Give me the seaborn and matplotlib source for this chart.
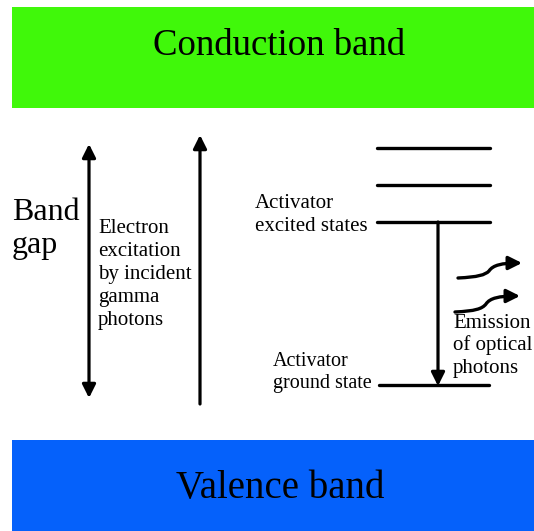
import numpy as np
import pandas as pd
import seaborn as sns
import matplotlib
matplotlib.use("Agg")
import matplotlib.pyplot as plt
from matplotlib.patches import Rectangle, FancyArrowPatch
from matplotlib.path import Path

sns.set_theme(style="white")
plt.rcParams['font.family'] = ['Liberation Serif', 'DejaVu Serif']

# ---- diagram content ----
band_names = ["Conduction band", "Valence band"]
band_colors = ["#40f80a", "#0561fb"]
level_names = ["level 3", "level 2", "excited", "ground"]
level_y = [148, 185, 222, 385]
level_x0 = [377, 377, 377, 379]
level_x1 = [490, 490, 490, 489]

gap_label = ["Band", "gap"]
excitation_label = ["Electron", "excitation", "by incident", "gamma", "photons"]
excited_label = ["Activator", "excited states"]
ground_label = ["Activator", "ground state"]
emission_label = ["Emission", "of optical", "photons"]

W, H = 534, 531
fig = plt.figure(figsize=(W / 100, H / 100), dpi=100)
ax = fig.add_axes([0, 0, 1, 1])

# bands
ax.add_patch(Rectangle((12, 7), W - 12, 101, color=band_colors[0], lw=0))
ax.add_patch(Rectangle((12, 440), W - 12, H - 440, color=band_colors[1], lw=0))
ax.text(279, 55, band_names[0], fontsize=26.5, ha="center", va="baseline", color="black")
ax.text(280, 498, band_names[1], fontsize=28, ha="center", va="baseline", color="black")

# energy levels via seaborn
lv = pd.DataFrame({
    "x": level_x0 + level_x1,
    "y": level_y + level_y,
    "lvl": level_names + level_names,
})
for name in level_names:
    sub = lv[lv["lvl"] == name]
    sns.lineplot(data=sub, x="x", y="y", ax=ax, color="black", lw=2.4, legend=False, sort=False)
ax.set_xlim(0, W)
ax.set_ylim(H, 0)
ax.axis("off")

def arrow(p0, p1, both=False):
    st = '<|-|>' if both else '-|>'
    a = FancyArrowPatch(p0, p1, arrowstyle=st, mutation_scale=20, lw=2.3,
                        color="black", shrinkA=0, shrinkB=0)
    ax.add_patch(a)

# band gap double arrow
arrow((89, 398), (89, 144), both=True)
# excitation arrow
arrow((200, 404), (200, 135))
# emission arrow
arrow((438, 222), (438, 386))

# wavy photon arrows
for (x0, y0), (x1, y1) in [((458, 278), (522, 263)), ((455, 312), (520, 296))]:
    verts = [(x0, y0), (x0 + 20, y0 - 1), (x0 + 27, y0 - 3), (x0 + 31, y1 + 8),
             (x0 + 35, y1 + 2), (x0 + 44, y1), (x1, y1)]
    codes = [Path.MOVETO, Path.CURVE4, Path.CURVE4, Path.CURVE4,
             Path.CURVE4, Path.CURVE4, Path.CURVE4]
    p = FancyArrowPatch(path=Path(verts, codes), arrowstyle='-|>', mutation_scale=20,
                        lw=2.4, color="black")
    ax.add_patch(p)

def lines(x, baselines, labels, size):
    for yb, t in zip(baselines, labels):
        ax.text(x, yb, t, fontsize=size, ha="left", va="baseline", color="black")

lines(12, [220, 253], gap_label, 23)
lines(98, [233, 256, 279, 302, 325], excitation_label, 15)
lines(255, [208, 231], excited_label, 15)
lines(273, [366, 388], ground_label, 14.5)
lines(453, [328, 350, 373], emission_label, 15)

fig.savefig("out.png", dpi=100)
